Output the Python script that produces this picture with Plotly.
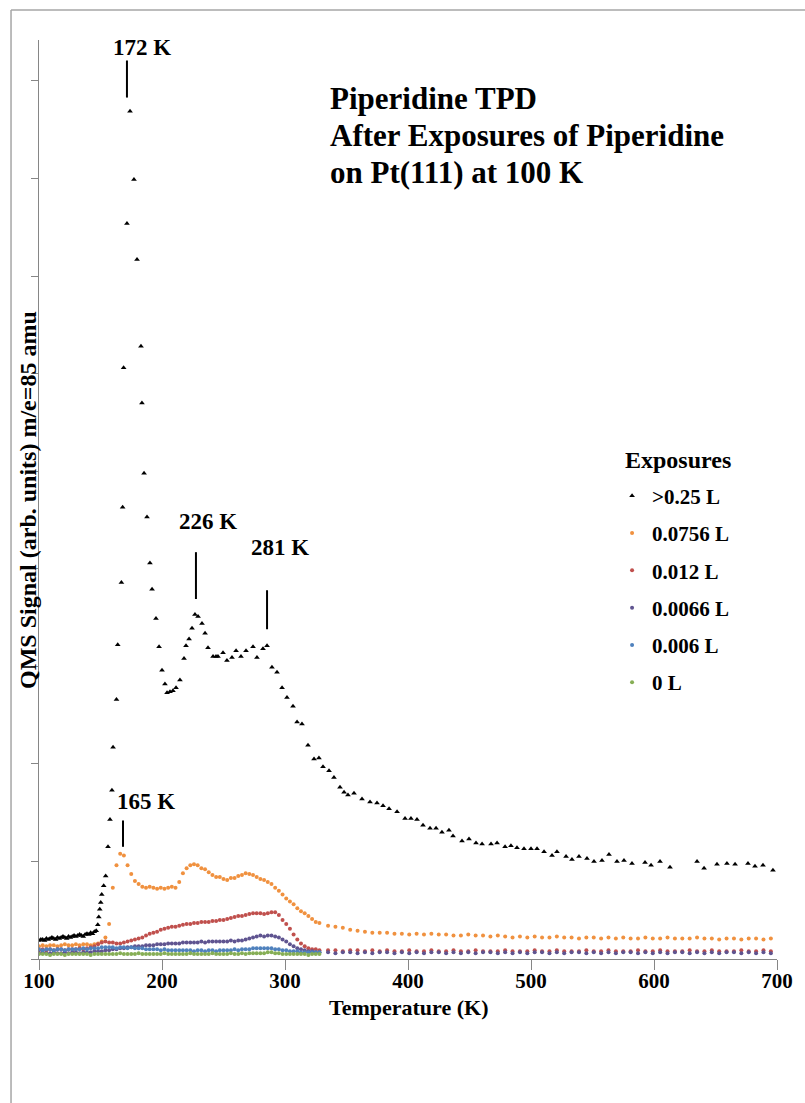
import plotly.graph_objects as go

FONT = "Liberation Serif"

# ---------------- data ----------------
SERIES_NAMES = [">0.25 L", "0.0756 L", "0.012 L", "0.0066 L", "0.006 L", "0 L"]

T_BLACK = [100, 101.5, 103, 104.5, 106, 107.5, 109, 110.5, 112, 113.5, 115, 116.5, 118, 119.5, 121, 122.5,
           124, 125.5, 127, 128.5, 130, 131.5, 133, 134.5, 136, 137.5, 139, 140.5, 142, 143.5, 145, 146.5,
           147.8, 148.6, 149.4, 150.2, 151.0, 152.6, 154.2, 156.1, 157.7, 159.3, 160.2, 163.0, 164.0, 167.0,
           168.0, 168.8, 171.5, 174.0, 177.2, 179.7, 182.9, 183.7, 185.4, 187.8, 190.2, 191.9, 195.1, 197.6,
           200.0, 202.4, 204.1, 206.5, 208.9, 211.4, 214.6, 217.9, 219.5, 222.0, 224.4, 226.8, 229.3, 232.5,
           235.0, 237.4, 241.5, 243.9, 245.5, 249.6, 252.8, 256.9, 260.2, 264.2, 268.3, 274.0, 277.2, 282.1,
           285.4, 289.4, 293.5, 297.6, 301.6, 306.5, 309.8, 313.8, 318.7, 323.6, 327.6, 330.9, 335.8, 339.8,
           344.7, 348.0, 351.2, 356.1, 362.6, 369.1, 374.8, 379.7, 384.6, 391.1, 397.6, 402.4, 407.3, 412.2,
           417.9, 422.8, 427.6, 433.3, 436.6, 443.9, 449.6, 455.3, 460.2, 467.5, 472.4, 478.9, 483.7, 488.6,
           494.3, 500.0, 504.9, 510.6, 517.1, 521.1, 528.5, 533.3, 539.0, 545.5, 551.2, 557.7, 563.4, 569.9,
           575.6, 582.1, 592.7, 597.6, 604.9, 613.0, 635.0, 640.7, 651.2, 659.3, 665.9, 676.4, 682.1, 688.6,
           696.7]
Y_BLACK = [0.19, 0.20, 0.20, 0.19, 0.21, 0.20, 0.21, 0.22, 0.21, 0.20, 0.22, 0.21, 0.22, 0.23, 0.22, 0.21,
           0.23, 0.22, 0.23, 0.24, 0.23, 0.24, 0.25, 0.24, 0.23, 0.25, 0.26, 0.25, 0.27, 0.26, 0.28, 0.29,
           0.35, 0.43, 0.51, 0.58, 0.66, 0.75, 0.85, 1.15, 1.43, 1.73, 2.17, 2.66, 3.22, 3.86,
           4.63, 6.06, 7.54, 8.69, 7.99, 7.17, 6.28, 5.70, 4.98, 4.53, 4.06, 3.79, 3.49, 3.20,
           2.96, 2.82, 2.73, 2.74, 2.75, 2.78, 2.86, 3.08, 3.21, 3.28, 3.39, 3.53, 3.51, 3.44,
           3.34, 3.19, 3.10, 3.10, 3.10, 3.14, 3.06, 3.09, 3.16, 3.10, 3.16, 3.20, 3.09, 3.18,
           3.21, 2.99, 2.94, 2.78, 2.68, 2.59, 2.43, 2.41, 2.19, 2.05, 2.06, 1.97, 1.93, 1.86,
           1.76, 1.71, 1.68, 1.70, 1.64, 1.61, 1.60, 1.57, 1.54, 1.51, 1.44, 1.44, 1.43, 1.37,
           1.34, 1.34, 1.30, 1.32, 1.26, 1.21, 1.23, 1.19, 1.18, 1.18, 1.19, 1.15, 1.16, 1.14,
           1.13, 1.13, 1.13, 1.10, 1.06, 1.10, 1.05, 1.02, 1.05, 1.03, 1.00, 1.01, 1.07, 1.00,
           1.01, 0.98, 0.99, 0.96, 1.00, 0.94, 1.00, 0.93, 0.97, 0.98, 0.97, 0.98, 0.95, 0.96,
           0.91]

# sampling grids of the low-exposure runs (K)
T_DENSE = list(range(100, 329, 3))   # 100 ... 328
T_TAIL = list(range(335, 696, 6))    # 335 ... 695

Y_ORANGE_DENSE = [0.13, 0.14, 0.13, 0.14, 0.14, 0.13, 0.14, 0.15, 0.14, 0.14,
                  0.15, 0.14, 0.15, 0.15, 0.14, 0.15, 0.16, 0.18, 0.22, 0.36,
                  0.73, 0.96, 1.08, 1.06, 0.96, 0.87, 0.80, 0.77, 0.74, 0.73,
                  0.74, 0.73, 0.72, 0.73, 0.72, 0.73, 0.74, 0.73, 0.79, 0.88,
                  0.93, 0.96, 0.97, 0.96, 0.93, 0.92, 0.89, 0.86, 0.84, 0.84,
                  0.82, 0.81, 0.83, 0.83, 0.85, 0.86, 0.88, 0.87, 0.86, 0.84,
                  0.82, 0.81, 0.79, 0.77, 0.73, 0.70, 0.66, 0.62, 0.59, 0.56,
                  0.52, 0.49, 0.47, 0.44, 0.41, 0.38, 0.37]
Y_ORANGE_TAIL = [0.34, 0.33, 0.32, 0.30, 0.29, 0.28, 0.27, 0.27, 0.27, 0.26,
                 0.26, 0.25, 0.26, 0.25, 0.26, 0.25, 0.25, 0.24, 0.24, 0.25,
                 0.24, 0.24, 0.23, 0.24, 0.23, 0.22, 0.23, 0.22, 0.23, 0.22,
                 0.22, 0.23, 0.22, 0.22, 0.21, 0.22, 0.22, 0.21, 0.22, 0.21,
                 0.22, 0.21, 0.21, 0.22, 0.21, 0.21, 0.22, 0.21, 0.21, 0.21,
                 0.22, 0.21, 0.21, 0.20, 0.21, 0.21, 0.20, 0.21, 0.21, 0.20,
                 0.21]

Y_RED_DENSE = [0.09, 0.10, 0.09, 0.10, 0.09, 0.10, 0.10, 0.09, 0.10, 0.10,
               0.10, 0.11, 0.10, 0.11, 0.12, 0.13, 0.15, 0.17, 0.18, 0.17,
               0.17, 0.16, 0.16, 0.17, 0.18, 0.19, 0.20, 0.21, 0.22, 0.24,
               0.26, 0.27, 0.28, 0.30, 0.31, 0.32, 0.33, 0.33, 0.34, 0.35,
               0.36, 0.36, 0.37, 0.37, 0.38, 0.38, 0.38, 0.39, 0.39, 0.40,
               0.40, 0.41, 0.42, 0.43, 0.44, 0.44, 0.45, 0.46, 0.47, 0.47,
               0.47, 0.46, 0.47, 0.48, 0.48, 0.45, 0.40, 0.36, 0.31, 0.25,
               0.20, 0.16, 0.13, 0.11, 0.10, 0.10, 0.09]
Y_RED_TAIL = [0.09, 0.09, 0.08, 0.09, 0.09, 0.08, 0.09, 0.08, 0.09, 0.08,
              0.08, 0.09, 0.08, 0.08, 0.09, 0.08, 0.08, 0.09, 0.08, 0.08,
              0.09, 0.08, 0.08, 0.08, 0.09, 0.08, 0.08, 0.08, 0.09, 0.08,
              0.08, 0.09, 0.08, 0.08, 0.08, 0.09, 0.08, 0.08, 0.09, 0.08,
              0.08, 0.08, 0.09, 0.08, 0.08, 0.09, 0.08, 0.08, 0.08, 0.09,
              0.08, 0.08, 0.09, 0.08, 0.08, 0.08, 0.09, 0.08, 0.08, 0.09,
              0.08]

Y_PURPLE_DENSE = [0.06, 0.07, 0.06, 0.06, 0.07, 0.06, 0.06, 0.07, 0.06, 0.07,
                  0.07, 0.06, 0.07, 0.07, 0.07, 0.08, 0.08, 0.08, 0.09, 0.09,
                  0.10, 0.10, 0.11, 0.11, 0.12, 0.12, 0.13, 0.13, 0.13, 0.14,
                  0.14, 0.14, 0.15, 0.15, 0.15, 0.16, 0.16, 0.16, 0.16, 0.17,
                  0.17, 0.17, 0.17, 0.17, 0.18, 0.17, 0.18, 0.18, 0.18, 0.18,
                  0.18, 0.18, 0.19, 0.18, 0.19, 0.19, 0.20, 0.21, 0.22, 0.23,
                  0.24, 0.23, 0.24, 0.24, 0.23, 0.22, 0.20, 0.18, 0.15, 0.13,
                  0.11, 0.10, 0.09, 0.08, 0.08, 0.07, 0.07]
Y_PURPLE_TAIL = [0.07, 0.06, 0.07, 0.07, 0.06, 0.07, 0.06, 0.07, 0.07, 0.06,
                 0.07, 0.06, 0.07, 0.06, 0.07, 0.07, 0.06, 0.07, 0.06, 0.07,
                 0.06, 0.07, 0.07, 0.06, 0.07, 0.06, 0.07, 0.06, 0.07, 0.07,
                 0.06, 0.07, 0.06, 0.07, 0.07, 0.06, 0.07, 0.06, 0.07, 0.06,
                 0.07, 0.07, 0.06, 0.07, 0.06, 0.07, 0.06, 0.07, 0.07, 0.06,
                 0.07, 0.06, 0.07, 0.06, 0.07, 0.07, 0.06, 0.07, 0.06, 0.07,
                 0.06]

Y_BLUE_DENSE = [0.10, 0.09, 0.10, 0.10, 0.09, 0.10, 0.10, 0.09, 0.10, 0.10,
                0.10, 0.10, 0.11, 0.10, 0.11, 0.11, 0.11, 0.12, 0.12, 0.12,
                0.12, 0.11, 0.12, 0.12, 0.11, 0.12, 0.11, 0.11, 0.11, 0.10,
                0.10, 0.10, 0.10, 0.09, 0.10, 0.09, 0.09, 0.09, 0.09, 0.09,
                0.09, 0.09, 0.08, 0.09, 0.09, 0.08, 0.09, 0.09, 0.08, 0.09,
                0.09, 0.09, 0.09, 0.10, 0.09, 0.10, 0.10, 0.10, 0.11, 0.11,
                0.11, 0.11, 0.11, 0.11, 0.10, 0.10, 0.09, 0.09, 0.08, 0.08,
                0.08, 0.07, 0.07, 0.07, 0.07, 0.07, 0.07]

Y_GREEN_DENSE = [0.05, 0.05, 0.05, 0.04, 0.05, 0.05, 0.05, 0.04, 0.05, 0.05,
                 0.05, 0.05, 0.05, 0.05, 0.04, 0.05, 0.05, 0.05, 0.05, 0.05,
                 0.05, 0.05, 0.06, 0.05, 0.05, 0.05, 0.05, 0.06, 0.05, 0.05,
                 0.05, 0.05, 0.05, 0.05, 0.06, 0.05, 0.05, 0.05, 0.05, 0.05,
                 0.05, 0.06, 0.05, 0.05, 0.05, 0.05, 0.05, 0.06, 0.05, 0.05,
                 0.05, 0.05, 0.06, 0.05, 0.05, 0.06, 0.05, 0.06, 0.06, 0.06,
                 0.06, 0.06, 0.07, 0.07, 0.06, 0.06, 0.05, 0.05, 0.05, 0.05,
                 0.05, 0.05, 0.05, 0.04, 0.05, 0.05, 0.05]

PEAK_LABELS = ["172 K", "226 K", "281 K", "165 K"]
TITLE_LINES = ["Piperidine TPD", "After Exposures of Piperidine", "on Pt(111) at 100 K"]
X_TICKS = [100, 200, 300, 400, 500, 600, 700]
Y_TICKS = [0, 1, 2, 3, 4, 5, 6, 7, 8, 9]

# ---------------- figure ----------------
COLORS = ["#000000", "#F0913F", "#C0504D", "#5F5490", "#4F81BD", "#86AE55"]

series = [
    (T_BLACK, Y_BLACK),
    (T_DENSE + T_TAIL, Y_ORANGE_DENSE + Y_ORANGE_TAIL),
    (T_DENSE + T_TAIL, Y_RED_DENSE + Y_RED_TAIL),
    (T_DENSE + T_TAIL, Y_PURPLE_DENSE + Y_PURPLE_TAIL),
    (T_DENSE, Y_BLUE_DENSE),
    (T_DENSE, Y_GREEN_DENSE),
]

fig = go.Figure()
for i, (name, (xs, ys)) in enumerate(zip(SERIES_NAMES, series)):
    fig.add_trace(go.Scatter(
        x=xs, y=ys, mode="markers", name=name, legendgroup=name,
        marker=dict(symbol="triangle-up" if i == 0 else "circle",
                    size=5 if i == 0 else 4, color=COLORS[i],
                    line=dict(width=0)),
    ))

axis_grey = "#868686"
fig.update_layout(
    width=805, height=1103,
    margin=dict(l=39, r=28, t=40, b=144, autoexpand=False),
    paper_bgcolor="white", plot_bgcolor="white",
    font=dict(family=FONT, color="black", size=20, weight="bold"),
    showlegend=True,
    legend=dict(x=0.7765, y=0.526, xanchor="left", yanchor="top",
                font=dict(family=FONT, size=21, weight="bold"),
                bgcolor="rgba(0,0,0,0)", tracegroupgap=7,
                traceorder="grouped", itemsizing="trace"),
    xaxis=dict(range=[100, 700], tickvals=X_TICKS, showgrid=False, zeroline=False,
               showline=True, linecolor=axis_grey, linewidth=1,
               ticks="outside", ticklen=10, tickcolor=axis_grey,
               ticklabelstandoff=-7,
               tickfont=dict(family=FONT, size=21, weight="bold")),
    yaxis=dict(range=[0, 9.42], tickvals=Y_TICKS, showgrid=False, zeroline=False,
               showline=True, linecolor=axis_grey, linewidth=1,
               ticks="outside", ticklen=7, tickcolor=axis_grey,
               showticklabels=False),
)

# axis titles
fig.add_annotation(text="Temperature (K)", xref="paper", yref="paper", x=0.5, y=-0.0525,
                   xanchor="center", yanchor="middle", showarrow=False,
                   font=dict(family=FONT, size=22, weight="bold"))
fig.add_annotation(text="QMS Signal (arb. units) m/e=85 amu", xref="paper", yref="paper",
                   x=-0.0149, y=0.4995, xanchor="center", yanchor="middle", textangle=-90,
                   showarrow=False, font=dict(family=FONT, size=24, weight="bold"))

# title block, one annotation per line
for line, ypos in zip(TITLE_LINES, [0.9365, 0.8962, 0.8559]):
    fig.add_annotation(text=line, xref="paper", yref="paper",
                       x=0.3916, y=ypos, xanchor="left", yanchor="middle", align="left",
                       showarrow=False, font=dict(family=FONT, size=31, weight="bold"))

# legend heading
fig.add_annotation(text="Exposures", xref="paper", yref="paper", x=0.866, y=0.543,
                   xanchor="center", yanchor="middle", showarrow=False,
                   font=dict(family=FONT, size=24, weight="bold"))

# peak labels with tick lines (data coordinates)
label_pos = [(183.7, 9.34), (237.4, 4.48), (295.9, 4.22), (187.0, 1.61)]
line_pos = [(171.5, 9.21, 8.83), (227.6, 4.17, 3.69), (285.4, 3.78, 3.38), (168.3, 1.42, 1.15)]
for txt, (lx, ly), (sx, y0, y1) in zip(PEAK_LABELS, label_pos, line_pos):
    fig.add_annotation(text=txt, x=lx, y=ly, xref="x", yref="y", showarrow=False,
                       xanchor="center", yanchor="middle",
                       font=dict(family=FONT, size=23, weight="bold"))
    fig.add_shape(type="line", xref="x", yref="y", x0=sx, x1=sx, y0=y0, y1=y1,
                  line=dict(color="black", width=2))

# outer frame (left and top edges visible)
fig.add_shape(type="line", xref="paper", yref="paper", x0=-0.0379, x1=-0.0379, y0=1.0326, y1=-0.2,
              line=dict(color="#A6A6A6", width=1.5))
fig.add_shape(type="line", xref="paper", yref="paper", x0=-0.0379, x1=1.05, y0=1.0326, y1=1.0326,
              line=dict(color="#A6A6A6", width=1.5))

fig.write_html("out.html")
